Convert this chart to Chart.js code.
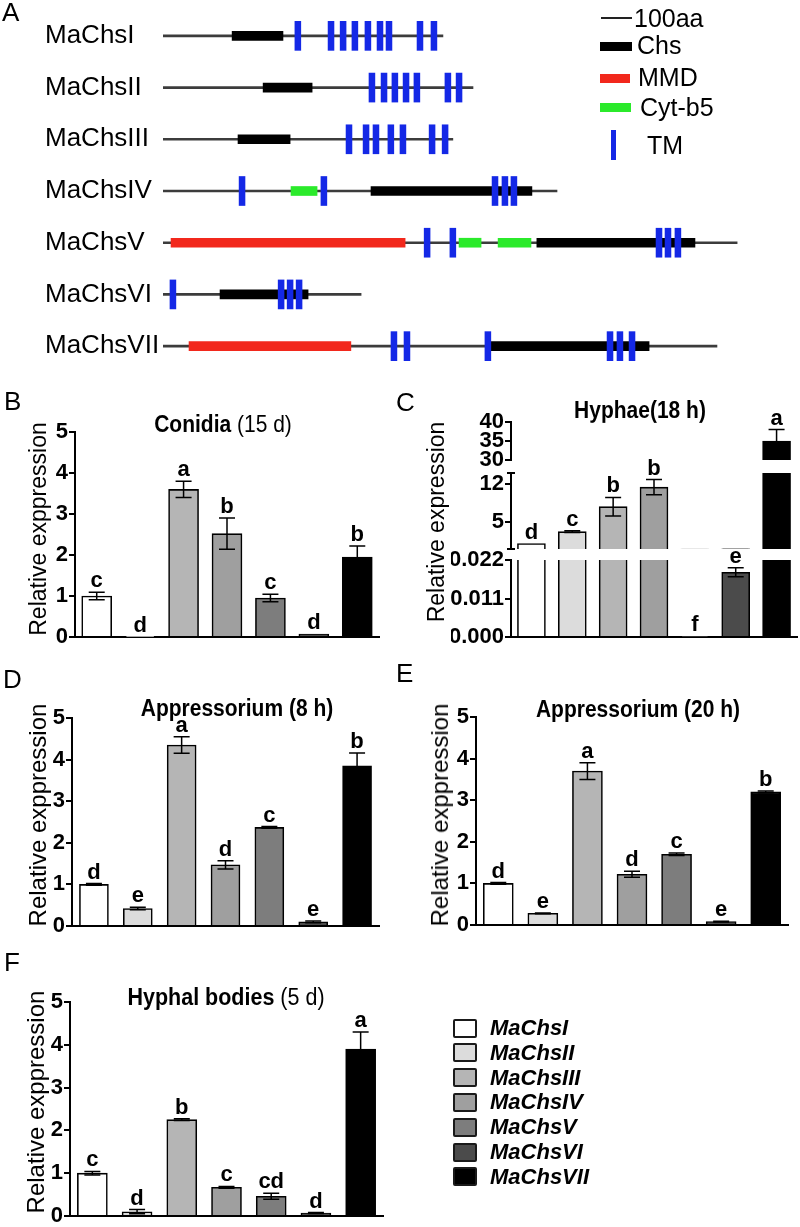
<!DOCTYPE html>
<html>
<head>
<meta charset="utf-8">
<script src="https://cdn.jsdelivr.net/npm/chart.js@4.4.1/dist/chart.umd.min.js"></script>
<style>
  body { margin: 0; background: #fff; }
  #page { position: relative; width: 800px; height: 1227px; overflow: hidden;
          font-family: "Liberation Sans", Arial, sans-serif; color: #000; }
  canvas.layer { position: absolute; left: 0; top: 0; }
  .txt { position: absolute; white-space: nowrap; line-height: 1; }
  .panel { font-size: 26px; }
  .title { font-size: 21px; font-weight: bold; transform: translateX(-50%) scaleY(1.1); }
  .title span { font-weight: normal; }
  .ytitle { font-size: 23px; transform: translate(-50%, -50%) rotate(-90deg); }
  .key { position: absolute; }
  .lgbox { position: absolute; width: 20px; height: 15px; border: 2px solid #1a1a1a; border-radius: 2px; }
  .lgtxt { position: absolute; font-size: 22px; font-weight: bold; font-style: italic; line-height: 22px; white-space: nowrap; }
</style>
</head>
<body>
<div id="page">
  <canvas id="domains" class="layer" width="800" height="1227"></canvas>
  <canvas id="conidia" class="layer" width="800" height="1227"></canvas>
  <canvas id="hyphaeTop" class="layer" width="800" height="1227"></canvas>
  <canvas id="hyphaeMid" class="layer" width="800" height="1227"></canvas>
  <canvas id="hyphaeLow" class="layer" width="800" height="1227"></canvas>
  <canvas id="appr8" class="layer" width="800" height="1227"></canvas>
  <canvas id="appr20" class="layer" width="800" height="1227"></canvas>
  <canvas id="bodies" class="layer" width="800" height="1227"></canvas>

  <!-- panel letters -->
  <div class="txt panel" style="left:2px;top:-1px">A</div>
  <div class="txt panel" style="left:4px;top:388px">B</div>
  <div class="txt panel" style="left:396px;top:389px">C</div>
  <div class="txt panel" style="left:3px;top:666px">D</div>
  <div class="txt panel" style="left:396px;top:660px">E</div>
  <div class="txt panel" style="left:4px;top:949px">F</div>

  <!-- panel A key -->
  <div class="key" style="left:601px;top:17px;width:31px;height:2px;background:#222"></div>
  <div class="txt" style="left:634px;top:6px;font-size:25px">100aa</div>
  <div class="key" style="left:600px;top:42px;width:32px;height:9px;background:#000"></div>
  <div class="txt" style="left:637px;top:33px;font-size:25px">Chs</div>
  <div class="key" style="left:600px;top:74px;width:30px;height:9px;background:#f2281c"></div>
  <div class="txt" style="left:638px;top:65px;font-size:25px">MMD</div>
  <div class="key" style="left:600px;top:103px;width:31px;height:9px;background:#2bea2b"></div>
  <div class="txt" style="left:640px;top:95px;font-size:25px">Cyt-b5</div>
  <div class="key" style="left:611px;top:130px;width:5px;height:30px;background:#1428e6"></div>
  <div class="txt" style="left:647px;top:133px;font-size:25px">TM</div>

  <!-- panel titles -->
  <div class="txt title" style="left:223px;top:413px">Conidia <span>(15 d)</span></div>
  <div class="txt title" style="left:640px;top:399px">Hyphae(18 h)</div>
  <div class="txt title" style="left:237px;top:697px">Appressorium (8 h)</div>
  <div class="txt title" style="left:638px;top:698px">Appressorium (20 h)</div>
  <div class="txt title" style="left:226px;top:987px;font-size:21.5px">Hyphal bodies <span>(5 d)</span></div>

  <!-- y axis titles -->
  <div class="txt ytitle" style="left:38px;top:529px">Relative exppression</div>
  <div class="txt ytitle" style="left:436px;top:522px">Relative expression</div>
  <div class="txt ytitle" style="left:38px;top:815px;font-size:24px">Relative exppression</div>
  <div class="txt ytitle" style="left:440px;top:815px;font-size:24px">Relative exppression</div>
  <div class="txt ytitle" style="left:36px;top:1102px;font-size:24px">Relative exppression</div>

  <div id="legend"></div>
</div>

<script>
Chart.defaults.font.family = '"Liberation Sans", Arial, sans-serif';
Chart.defaults.color = '#000';

const PAGE_H = 1227;
const PAGE_W = 800;
const AXIS_W = 60;

const genes = ['MaChsI', 'MaChsII', 'MaChsIII', 'MaChsIV', 'MaChsV', 'MaChsVI', 'MaChsVII'];
const barFills = ['#ffffff', '#dcdcdc', '#b5b5b5', '#9f9f9f', '#7d7d7d', '#4b4b4b', '#000000'];

// A: protein architecture, positions in amino acids
const proteinLength = [903, 1000, 935, 1271, 1852, 639, 1787];
const chsDomains = [[[223, 387]], [[323, 481]], [[242, 410]], [[671, 1190]], [[1206, 1716]], [[184, 468]], [[1055, 1568]]];
const mmdDomains = [[], [], [], [], [[26, 781]], [], [[84, 606]]];
const cytb5Domains = [[], [], [], [[413, 497]], [[955, 1026], [1081, 1187]], [], []];
const tmCenters = [
    [435, 542, 581, 619, 661, 700, 729, 829, 874],
    [674, 713, 748, 784, 819, 919, 955],
    [600, 655, 687, 735, 774, 868, 910],
    [255, 519, 1071, 1103, 1132],
    [852, 935, 1600, 1629, 1661],
    [32, 381, 410, 439],
    [745, 787, 1048, 1442, 1474, 1513]
];
const TM_HALF = 9.5;

// B: conidia (15 d)
const conidiaMean = [1.0, 0.01, 3.6, 2.52, 0.95, 0.07, 1.95];
const conidiaErr = [0.09, 0, 0.2, 0.38, 0.09, 0, 0.27];
const conidiaSig = ['c', 'd', 'a', 'b', 'c', 'd', 'b'];

// C: hyphae (18 h), broken axis
const hyphaeMean = [1.0, 3.2, 7.8, 11.4, 0.0002, 0.0185, 35];
const hyphaeErr = [0, 0.15, 1.7, 1.4, 0, 0.0013, 3];
const hyphaeSig = ['d', 'c', 'b', 'b', 'f', 'e', 'a'];
const hyphaeTopTicks = [30, 35, 40];
const hyphaeMidTicks = [5, 12];
const hyphaeLowTicks = [0, 0.011, 0.022];

// D: appressorium (8 h)
const appr8Mean = [1.0, 0.42, 4.35, 1.47, 2.37, 0.1, 3.85];
const appr8Err = [0.02, 0.03, 0.2, 0.1, 0.02, 0.02, 0.31];
const appr8Sig = ['d', 'e', 'a', 'd', 'c', 'e', 'b'];

// E: appressorium (20 h)
const appr20Mean = [1.0, 0.28, 3.7, 1.22, 1.7, 0.08, 3.2];
const appr20Err = [0.02, 0.01, 0.2, 0.07, 0.03, 0.01, 0.02];
const appr20Sig = ['d', 'e', 'a', 'd', 'c', 'e', 'b'];

// F: hyphal bodies (5 d)
const bodiesMean = [1.0, 0.1, 2.25, 0.67, 0.46, 0.07, 3.9];
const bodiesErr = [0.04, 0.05, 0.02, 0.02, 0.07, 0.01, 0.4];
const bodiesSig = ['c', 'd', 'b', 'c', 'cd', 'd', 'a'];

const expressionTicks = [0, 1, 2, 3, 4, 5];

function zeroPad(scale) {
    scale.paddingTop = 0;
    scale.paddingBottom = 0;
    scale.paddingLeft = 0;
    scale.paddingRight = 0;
}

// error bars + significance letters
const sigPlugin = {
    id: 'sigMarks',
    afterDatasetsDraw(chart, args, opts) {
        const ctx = chart.ctx;
        const yScale = chart.scales.y;
        const bars = chart.getDatasetMeta(0).data;
        const means = chart.data.datasets[0].data;
        const [lo, hi] = opts.range;
        ctx.save();
        bars.forEach((bar, i) => {
            const m = means[i];
            if (m < lo || m > hi) return;
            const e = opts.errs[i];
            const yHi = yScale.getPixelForValue(m + e);
            if (e > 0) {
                const yLo = yScale.getPixelForValue(m - e);
                ctx.strokeStyle = '#000';
                ctx.lineWidth = 1.5;
                ctx.beginPath();
                ctx.moveTo(bar.x, yHi); ctx.lineTo(bar.x, yLo);
                ctx.moveTo(bar.x - 8, yHi); ctx.lineTo(bar.x + 8, yHi);
                ctx.moveTo(bar.x - 8, yLo); ctx.lineTo(bar.x + 8, yLo);
                ctx.stroke();
            }
            ctx.fillStyle = '#000';
            ctx.font = 'bold 22px "Liberation Sans", Arial, sans-serif';
            ctx.textAlign = 'center';
            ctx.textBaseline = 'alphabetic';
            ctx.fillText(opts.sigs[i], bar.x, yHi - 5);
        });
        // small caps at the ends of a broken y axis
        if (opts.caps) {
            const a = chart.chartArea;
            ctx.strokeStyle = '#000';
            ctx.lineWidth = 2;
            ctx.beginPath();
            ctx.moveTo(a.left - 4, a.top); ctx.lineTo(a.left + 4, a.top);
            ctx.moveTo(a.left - 4, a.bottom); ctx.lineTo(a.left + 4, a.bottom);
            ctx.stroke();
        }
        ctx.restore();
    }
};

function expressionChart(id, area, means, errs, sigs, yMin, yMax, yTicks, barW, extra = {}) {
    return new Chart(document.getElementById(id), {
        type: 'bar',
        data: {
            labels: genes,
            datasets: [{
                data: means,
                backgroundColor: barFills,
                borderColor: '#000',
                borderWidth: 1.6,
                borderSkipped: 'start',
                barThickness: barW,
                clip: 0
            }]
        },
        options: {
            responsive: false,
            animation: false,
            events: [],
            devicePixelRatio: 1,
            layout: {
                padding: {
                    left: area.left - AXIS_W,
                    right: PAGE_W - area.right,
                    top: area.top,
                    bottom: PAGE_H - area.bottom
                }
            },
            plugins: {
                legend: { display: false },
                tooltip: { enabled: false },
                sigMarks: { errs, sigs, range: extra.range || [yMin, yMax], caps: !!extra.caps }
            },
            scales: {
                x: {
                    grid: { display: false },
                    ticks: { display: false },
                    border: { display: extra.xAxis !== false, color: '#000', width: 2 },
                    afterFit: s => { s.height = 0; zeroPad(s); }
                },
                y: {
                    min: yMin,
                    max: yMax,
                    afterBuildTicks: s => { s.ticks = yTicks.map(v => ({ value: v })); },
                    ticks: {
                        autoSkip: false,
                        font: { size: 22, weight: 'bold' },
                        color: '#000',
                        padding: 1,
                        callback: extra.fmt || (v => String(v))
                    },
                    grid: { display: true, drawOnChartArea: false, drawTicks: true, tickLength: 6, color: '#000', lineWidth: 2 },
                    border: { display: true, color: '#000', width: 2 },
                    afterFit: s => { s.width = AXIS_W; zeroPad(s); }
                }
            }
        },
        plugins: [sigPlugin]
    });
}

// ---- A: domain diagram as floating horizontal bars ----
const rowPoints = perGene => perGene.flatMap((pairs, g) => pairs.map(p => ({ y: genes[g], x: p })));

new Chart(document.getElementById('domains'), {
    type: 'bar',
    data: {
        labels: genes,
        datasets: [
            { label: 'TM', data: rowPoints(tmCenters.map(cs => cs.map(c => [c - TM_HALF, c + TM_HALF]))), backgroundColor: '#1428e6', barThickness: 29 },
            { label: 'Cyt-b5', data: rowPoints(cytb5Domains), backgroundColor: '#2bea2b', barThickness: 9 },
            { label: 'MMD', data: rowPoints(mmdDomains), backgroundColor: '#f2281c', barThickness: 9 },
            { label: 'Chs', data: rowPoints(chsDomains), backgroundColor: '#000000', barThickness: 9 },
            { label: 'protein', data: rowPoints(proteinLength.map(len => [[0, len]])), backgroundColor: '#3c3c3c', barThickness: 2 }
        ]
    },
    options: {
        indexAxis: 'y',
        responsive: false,
        animation: false,
        events: [],
        devicePixelRatio: 1,
        datasets: { bar: { grouped: false, borderWidth: 0, barPercentage: 1, categoryPercentage: 1 } },
        layout: { padding: { left: 45, right: 17, top: 10, bottom: PAGE_H - 372 } },
        plugins: { legend: { display: false }, tooltip: { enabled: false } },
        scales: {
            x: { type: 'linear', min: 0, max: 2000, display: false },
            y: {
                type: 'category',
                labels: genes,
                grid: { display: false },
                border: { display: false },
                ticks: { crossAlign: 'far', font: { size: 26 }, color: '#000', padding: 0 },
                afterFit: s => { s.width = 118; zeroPad(s); }
            }
        }
    }
});

// ---- B-F ----
expressionChart('conidia', { left: 75, right: 379, top: 432, bottom: 637 },
    conidiaMean, conidiaErr, conidiaSig, 0, 5, expressionTicks, 30);

expressionChart('hyphaeTop', { left: 511, right: 797, top: 422, bottom: 460 },
    hyphaeMean, hyphaeErr, hyphaeSig, 30, 40, hyphaeTopTicks, 28, { xAxis: false });
expressionChart('hyphaeMid', { left: 511, right: 797, top: 473, bottom: 549 },
    hyphaeMean, hyphaeErr, hyphaeSig, 0, 14, hyphaeMidTicks, 28, { xAxis: false, range: [0.022, 14], caps: true });
expressionChart('hyphaeLow', { left: 511, right: 797, top: 560, bottom: 637 },
    hyphaeMean, hyphaeErr, hyphaeSig, 0, 0.022, hyphaeLowTicks, 28, { fmt: v => v.toFixed(3) });

expressionChart('appr8', { left: 72, right: 379, top: 718, bottom: 926 },
    appr8Mean, appr8Err, appr8Sig, 0, 5, expressionTicks, 29);
expressionChart('appr20', { left: 476, right: 788, top: 717, bottom: 925 },
    appr20Mean, appr20Err, appr20Sig, 0, 5, expressionTicks, 30);
expressionChart('bodies', { left: 70, right: 383, top: 1002, bottom: 1216 },
    bodiesMean, bodiesErr, bodiesSig, 0, 5, expressionTicks, 30);

// ---- gene legend (F) ----
const legend = document.getElementById('legend');
genes.forEach((g, i) => {
    const cy = 1028 + i * 24.8;
    legend.innerHTML += `<div class="lgbox" style="left:453px;top:${cy - 9.5}px;background:${barFills[i]}"></div>` +
        `<div class="lgtxt" style="left:490px;top:${cy - 11}px">${g}</div>`;
});
</script>
</body>
</html>
